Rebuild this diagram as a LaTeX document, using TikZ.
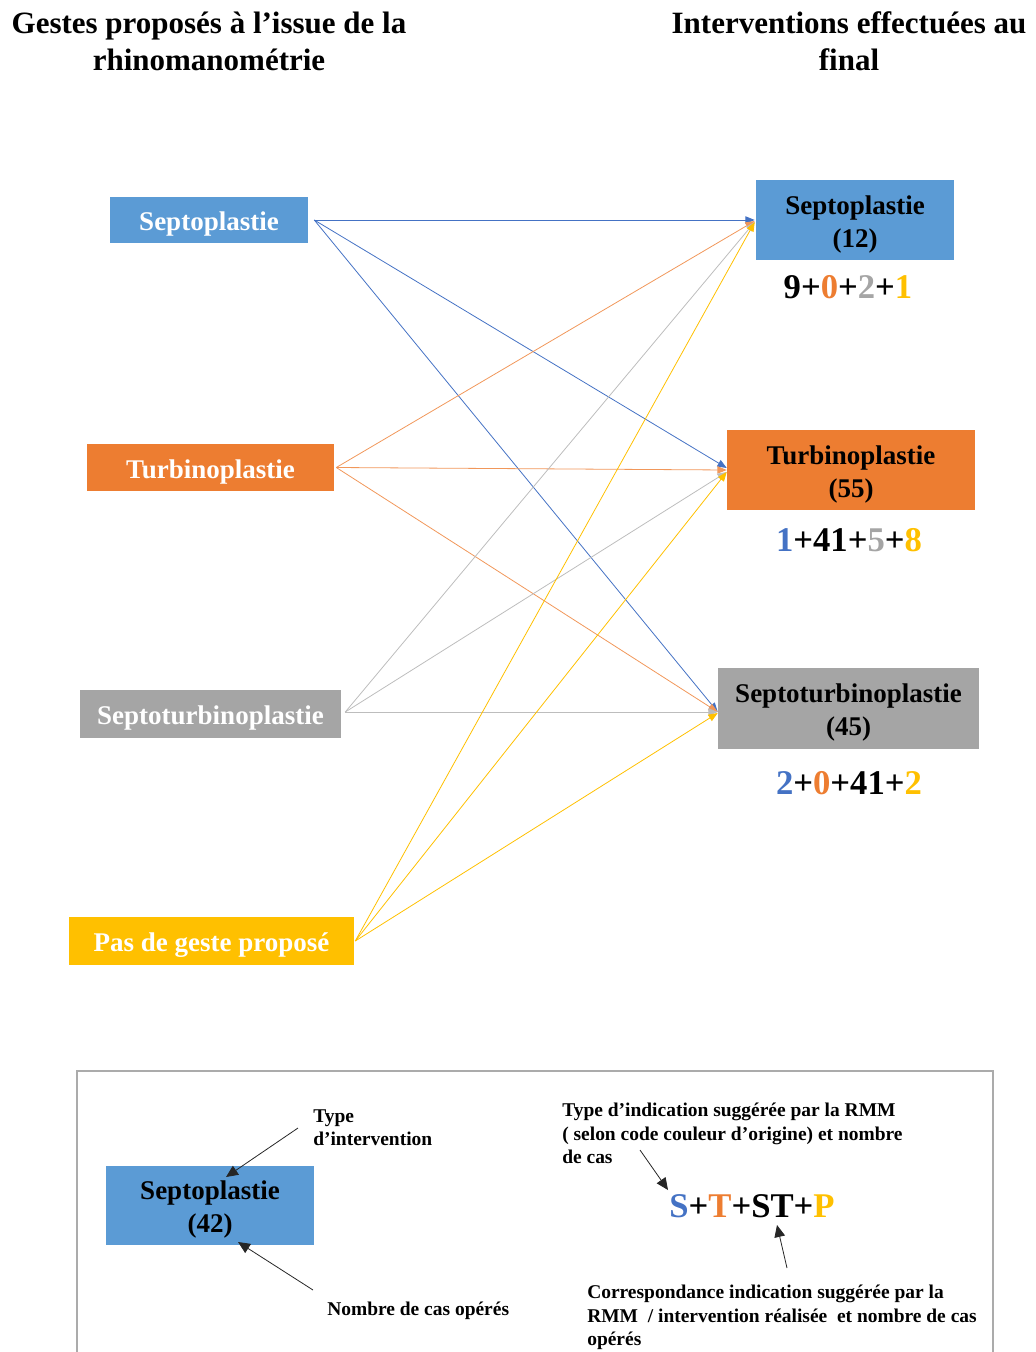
\documentclass[tikz,border=0pt]{standalone}
\usepackage{fontspec}
\setmainfont{Liberation Serif}
\usetikzlibrary{arrows.meta,calc}
\definecolor{cblue}{HTML}{5B9BD5}
\definecolor{lblue}{HTML}{4472C4}
\definecolor{corange}{HTML}{ED7D31}
\definecolor{cgray}{HTML}{A5A5A5}
\definecolor{lgray}{HTML}{BDBDBD}
\definecolor{cyellow}{HTML}{FFC000}
\definecolor{framegray}{HTML}{ABABAB}
\newcommand{\bxtext}[1]{\raisebox{-3pt}[\height][\depth]{\begin{tabular}{@{}c@{}}#1\end{tabular}}}
\begin{document}
\begin{tikzpicture}[x=0.75pt,y=-0.75pt,
  titletext/.style={font=\fontsize{23.25}{27.75}\selectfont\bfseries, align=center, inner sep=0},
  boxfont/.style={font=\fontsize{20.25}{24.75}\selectfont\bfseries, inner sep=0},
  lbox/.style={boxfont, fill=#1, text=white},
  rbox/.style={boxfont, fill=#1, text=black},
  nums/.style={font=\fontsize{26}{30}\selectfont\bfseries, inner sep=0},
  legtext/.style={font=\fontsize{14.6}{17.6}\selectfont\bfseries, inner sep=0, align=left, anchor=north west},
  conn/.style={draw=#1, line width=0.6pt, -{Triangle[length=7pt,width=5.5pt]}},
  legarrow/.style={draw=black!85, line width=0.6pt, -{Triangle[length=9pt,width=8pt]}}
]
\useasboundingbox (0,0) rectangle (1035,1352);

% titles
\node[titletext] (T1) at (209,41) {Gestes proposés à l’issue de la\\rhinomanométrie};
\node[titletext] (T2) at (849,41) {Interventions effectuées au\\final};

% left boxes
\node[lbox=cblue, minimum width=148.5pt, minimum height=34.5pt] (LS) at (209,220) {\bxtext{Septoplastie}};
\node[lbox=corange, minimum width=185.25pt, minimum height=35.25pt] (LT) at (210.5,467.5) {\bxtext{Turbinoplastie}};
\node[lbox=cgray, minimum width=195.75pt, minimum height=36pt] (LST) at (210.5,714) {\bxtext{Septoturbinoplastie}};
\node[lbox=cyellow, minimum width=213.75pt, minimum height=36pt] (LP) at (211.5,941) {\bxtext{Pas de geste proposé}};

% right boxes
\node[rbox=cblue, minimum width=148.5pt, minimum height=60pt] (RS) at (855,220) {\bxtext{Septoplastie\\(12)}};
\node[rbox=corange, minimum width=186pt, minimum height=60pt] (RT) at (851,470) {\bxtext{Turbinoplastie\\(55)}};
\node[rbox=cgray, minimum width=195.75pt, minimum height=60.75pt] (RST) at (848.5,708.5) {\bxtext{Septoturbinoplastie\\(45)}};

% counts
\node[nums] (NS) at (848,287) {9+\textcolor{corange}{0}+\textcolor{cgray}{2}+\textcolor{cyellow}{1}};
\node[nums] (NT) at (849,540) {\textcolor{lblue}{1}+41+\textcolor{cgray}{5}+\textcolor{cyellow}{8}};
\node[nums] (NST) at (849,783) {\textcolor{lblue}{2}+\textcolor{corange}{0}+41+\textcolor{cyellow}{2}};

% source points
\coordinate (sLS) at ($(LS.east)+(6,0)$);
\coordinate (sLT) at ($(LT.east)+(2,0)$);
\coordinate (sLST) at ($(LST.east)+(4,-2)$);
\coordinate (sLP) at ($(LP.east)+(1,0)$);
% target points
\coordinate (tRS) at ($(RS.west)+(-1,0)$);
\coordinate (tRT) at ($(RT.west)+(0,0)$);
\coordinate (tRST) at ($(RST.west)+(0,3.5)$);

% connectors
\draw[conn=lblue] (sLS) -- (tRS);
\draw[conn=lblue] (sLS) -- ($(RT.west)+(0,-2)$);
\draw[conn=lblue] (sLS) -- (tRST);
\draw[conn=corange!80] (sLT) -- ($(RS.west)+(-1,1)$);
\draw[conn=corange!80] (sLT) -- (tRT);
\draw[conn=corange!80] (sLT) -- (tRST);
\draw[conn=lgray] (sLST) -- ($(RS.west)+(-1,2)$);
\draw[conn=lgray] (sLST) -- ($(RT.west)+(0,2)$);
\draw[conn=lgray] (sLST) -- (tRST);
\draw[conn=cyellow] (sLP) -- ($(RS.west)+(-1,2)$);
\draw[conn=cyellow] (sLP) -- ($(RT.west)+(0,2)$);
\draw[conn=cyellow] (sLP) -- ($(RST.west)+(0,4.5)$);

% legend frame
\draw[framegray, line width=1.2pt] (77,1360) -- (77,1071) -- (993,1071) -- (993,1360);

% legend content
\node[rbox=cblue, minimum width=156pt, minimum height=59.25pt] (LEG) at (210,1205.5) {\bxtext{Septoplastie\\(42)}};
\node[legtext] (L1) at (313,1109) {Type\\d’intervention};
\node[legtext] (L2) at (327,1302) {Nombre de cas opérés};
\node[legtext] (L3) at (562,1103) {Type d’indication suggérée par la RMM\\( selon code couleur d’origine) et nombre\\de cas};
\node[nums] (L4) at (752,1206) {\textcolor{lblue}{S}+\textcolor{corange}{T}+ST+\textcolor{cyellow}{P}};
\node[legtext] (L5) at (587,1285) {Correspondance indication suggérée par la\\RMM~ / intervention réalisée~ et nombre de cas\\opérés};

\coordinate (a1s) at (298,1128); \coordinate (a1e) at (226,1177);
\coordinate (a2s) at (313,1290); \coordinate (a2e) at (238,1242);
\coordinate (a3s) at (640,1150); \coordinate (a3e) at (668,1190);
\coordinate (a4s) at (787,1268); \coordinate (a4e) at (777,1225);
\draw[legarrow] (a1s) -- (a1e);
\draw[legarrow] (a2s) -- (a2e);
\draw[legarrow] (a3s) -- (a3e);
\draw[legarrow] (a4s) -- (a4e);
\end{tikzpicture}
\end{document}
